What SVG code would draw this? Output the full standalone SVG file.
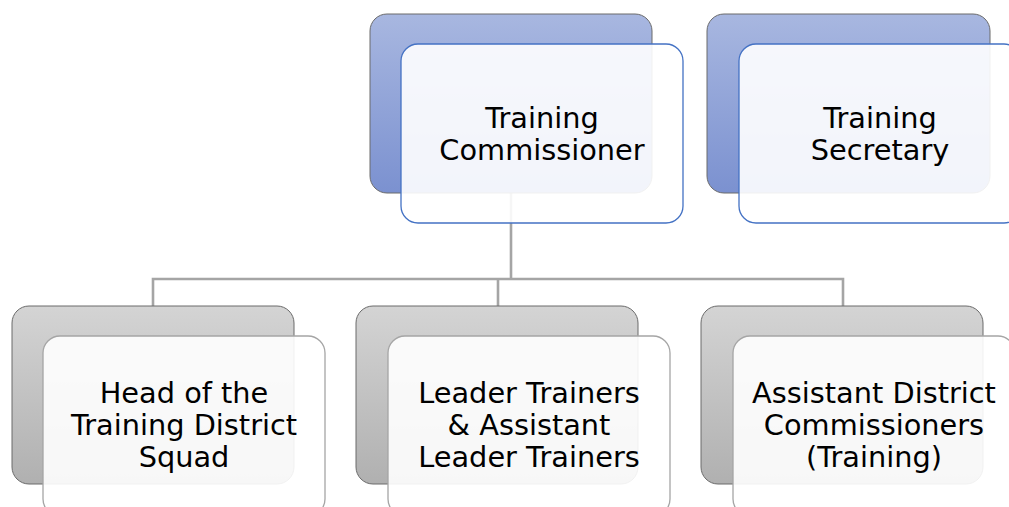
<svg xmlns="http://www.w3.org/2000/svg" width="1009" height="507" viewBox="0 0 1009 507">
  <style>
    .backBlue { fill: url(#gBlue); stroke: #6b6b6b; stroke-width: 1; }
    .backGray { fill: url(#gGray); stroke: #6b6b6b; stroke-width: 1; }
    .frontBlue { fill: #ffffff; fill-opacity: 0.9; stroke: #4472c4; stroke-width: 1.3; }
    .frontGray { fill: #ffffff; fill-opacity: 0.9; stroke: #a5a5a5; stroke-width: 1.3; }
    .lbl { font-family: "DejaVu Sans", Verdana, sans-serif; font-size: 28.8px; fill: #000000; text-anchor: middle; }
    .conn { fill: none; stroke: #a5a5a5; stroke-width: 2.6; }
  </style>
  <defs>
    <linearGradient id="gBlue" x1="0" y1="0" x2="0" y2="1">
      <stop offset="0" stop-color="#a8b7e0"/>
      <stop offset="1" stop-color="#7b91d0"/>
    </linearGradient>
    <linearGradient id="gGray" x1="0" y1="0" x2="0" y2="1">
      <stop offset="0" stop-color="#d4d4d4"/>
      <stop offset="1" stop-color="#b0b0b0"/>
    </linearGradient>
  </defs>
  <rect width="1009" height="507" fill="#ffffff"/>

  <g id="connectors">
    <path class="conn" d="M511 193 V279"/>
    <path class="conn" d="M153 306 V279 H843 V306"/>
    <path class="conn" d="M498 279 V306"/>
  </g>

  <g id="node-training-commissioner">
    <rect class="backBlue" x="370" y="14" width="282" height="179" rx="17"/>
    <rect class="frontBlue" x="401" y="44" width="282" height="179" rx="17"/>
    <text class="lbl" x="542" y="128">Training</text>
    <text class="lbl" x="542" y="160">Commissioner</text>
  </g>

  <g id="node-training-secretary">
    <rect class="backBlue" x="707" y="14" width="283" height="179" rx="17"/>
    <rect class="frontBlue" x="739" y="44" width="282" height="179" rx="17"/>
    <text class="lbl" x="880" y="128">Training</text>
    <text class="lbl" x="880" y="160">Secretary</text>
  </g>

  <g id="node-head-training-district-squad">
    <rect class="backGray" x="12" y="306" width="282" height="178" rx="17"/>
    <rect class="frontGray" x="43" y="336" width="282" height="180" rx="17"/>
    <text class="lbl" x="184" y="403">Head of the</text>
    <text class="lbl" x="184" y="435">Training District</text>
    <text class="lbl" x="184" y="467">Squad</text>
  </g>

  <g id="node-leader-trainers">
    <rect class="backGray" x="356" y="306" width="282" height="178" rx="17"/>
    <rect class="frontGray" x="388" y="336" width="282" height="180" rx="17"/>
    <text class="lbl" x="529" y="403">Leader Trainers</text>
    <text class="lbl" x="529" y="435">&amp; Assistant</text>
    <text class="lbl" x="529" y="467">Leader Trainers</text>
  </g>

  <g id="node-assistant-district-commissioners">
    <rect class="backGray" x="701" y="306" width="282" height="178" rx="17"/>
    <rect class="frontGray" x="733" y="336" width="282" height="180" rx="17"/>
    <text class="lbl" x="874" y="403">Assistant District</text>
    <text class="lbl" x="874" y="435">Commissioners</text>
    <text class="lbl" x="874" y="467">(Training)</text>
  </g>
</svg>
